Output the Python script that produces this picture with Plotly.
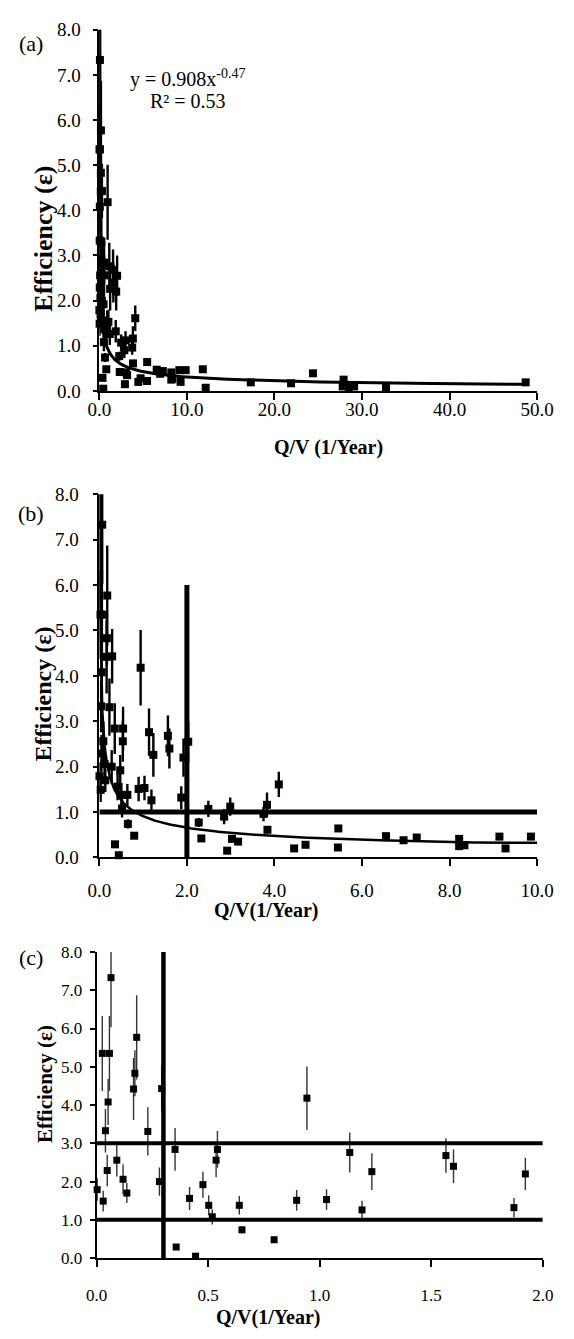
import numpy as np
import plotly.graph_objects as go

# ---------------- data ----------------
qv = [0.003, 0.030, 0.026, 0.040, 0.048, 0.052, 0.058, 0.065, 0.091, 0.119,
      0.136, 0.166, 0.172, 0.180, 0.230, 0.282, 0.292, 0.352, 0.357, 0.417,
      0.444, 0.477, 0.503, 0.519, 0.536, 0.542, 0.640, 0.652, 0.796, 0.897,
      0.943, 1.031, 1.135, 1.190, 1.234, 1.566, 1.600, 1.871, 1.922, 2.030,
      2.27, 2.33, 2.49, 2.85, 2.92, 2.99, 3.03, 3.17, 3.75, 3.83,
      3.84, 4.10, 4.45, 4.71, 5.46, 5.45, 6.55, 6.95, 7.25, 8.22,
      8.22, 8.34, 9.14, 9.28, 9.86, 11.82, 12.15, 17.3, 21.9, 24.4,
      27.9, 27.8, 28.5, 29.1, 32.75, 48.7]
eff = [1.79, 1.49, 5.35, 3.33, 2.29, 4.08, 5.35, 7.33, 2.56, 2.06,
       1.70, 4.42, 4.83, 5.77, 3.31, 2.00, 4.43, 2.84, 0.29, 1.56,
       0.05, 1.92, 1.38, 1.08, 2.56, 2.84, 1.38, 0.74, 0.48, 1.51,
       4.18, 1.53, 2.76, 1.26, 2.26, 2.68, 2.40, 1.32, 2.20, 2.55,
       0.77, 0.42, 1.07, 0.90, 0.15, 1.12, 0.41, 0.35, 0.96, 1.16,
       0.61, 1.61, 0.20, 0.28, 0.64, 0.22, 0.47, 0.38, 0.44, 0.41,
       0.25, 0.27, 0.46, 0.20, 0.46, 0.48, 0.07, 0.19, 0.17, 0.39,
       0.25, 0.10, 0.07, 0.10, 0.07, 0.19]
eff_err = [0.30, 0.27, 0.98, 0.57, 0.41, 0.60, 0.98, 1.30, 0.43, 0.39,
           0.26, 0.81, 0.60, 1.10, 0.63, 0.37, 0.60, 0.56, 0.0, 0.30,
           0.0, 0.34, 0.26, 0.20, 0.45, 0.48, 0.24, 0.10, 0.0, 0.27,
           0.83, 0.27, 0.52, 0.24, 0.48, 0.45, 0.44, 0.25, 0.42, 0.45,
           0.10, 0.0, 0.18, 0.17, 0.0, 0.20, 0.0, 0.0, 0.16, 0.27,
           0.0, 0.28, 0.0, 0.0, 0.0, 0.0, 0.0, 0.0, 0.0, 0.0,
           0.0, 0.0, 0.0, 0.0, 0.0, 0.0, 0.0, 0.0, 0.0, 0.0,
           0.0, 0.0, 0.0, 0.0, 0.0, 0.0]

fit_coef = 0.908
fit_exp = -0.47
fit_r2 = 0.53

b_vline_x = 2.0
b_vline_top = 6.0
b_hline_y = 1.0
c_vline_x = 0.3
c_hlines_y = [3.0, 1.0]

x_ranges = [[0, 50], [0, 10], [0, 2]]
x_dticks = [10, 2, 0.5]
y_range = [0, 8]
panel_labels = ["(a)", "(b)", "(c)"]
x_titles = ["Q/V (1/Year)", "Q/V(1/Year)", "Q/V(1/Year)"]
y_title = "Efficiency (\u03b5)"

# ---------------- layout helpers (pixel -> paper) ----------------
W, H = 574, 1339
def px(x):
    return x / W
def py(y):
    return 1 - y / H

x_dom_px = [(92, 553), (92, 553), (89, 559)]
y_dom_px = [(20, 387), (492, 861), (957, 1268)]

FONT = "Liberation Serif"
qv_arr = np.array(qv)
eff_arr = np.array(eff)
err_arr = np.array(eff_err)

fig = go.Figure()

xfit = np.geomspace(qv_arr.min(), qv_arr.max(), 1500)
yfit = fit_coef * xfit ** fit_exp

for i in range(3):
    xa = "x" if i == 0 else f"x{i+1}"
    ya = "y" if i == 0 else f"y{i+1}"
    big = i < 2
    if big:
        fig.add_trace(go.Scatter(x=xfit, y=yfit, mode="lines",
                                 line=dict(color="black", width=3 if i == 0 else 2.5),
                                 xaxis=xa, yaxis=ya, showlegend=False, hoverinfo="skip"))
    # error bars (clipped to plot area)
    fig.add_trace(go.Scatter(x=qv_arr, y=eff_arr, mode="markers",
                             marker=dict(size=1, color="rgba(0,0,0,0)"),
                             error_y=dict(type="data", array=err_arr, visible=True,
                                          width=0, thickness=2.4 if big else 1.4,
                                          color="black" if big else "#333333"),
                             cliponaxis=True,
                             xaxis=xa, yaxis=ya, showlegend=False, hoverinfo="skip"))
    # markers (inside the panel's x-range, not clipped at the axes)
    m = (qv_arr >= x_ranges[i][0]) & (qv_arr <= x_ranges[i][1])
    fig.add_trace(go.Scatter(x=qv_arr[m], y=eff_arr[m], mode="markers",
                             marker=dict(symbol="square", size=8 if big else 7, color="black"),
                             cliponaxis=False,
                             xaxis=xa, yaxis=ya, showlegend=False))

shapes = []
# panel (b) thresholds
shapes.append(dict(type="line", xref="x2", yref="y2", x0=b_vline_x, x1=b_vline_x,
                   y0=y_range[0], y1=b_vline_top, line=dict(color="black", width=5)))
shapes.append(dict(type="line", xref="x2", yref="y2", x0=x_ranges[1][0], x1=x_ranges[1][1],
                   y0=b_hline_y, y1=b_hline_y, line=dict(color="black", width=5)))
# panel (c) thresholds
shapes.append(dict(type="line", xref="x3", yref="y3", x0=c_vline_x, x1=c_vline_x,
                   y0=y_range[0], y1=y_range[1], line=dict(color="black", width=4.5)))
for hy in c_hlines_y:
    shapes.append(dict(type="line", xref="x3", yref="y3", x0=x_ranges[2][0], x1=x_ranges[2][1],
                       y0=hy, y1=hy, line=dict(color="black", width=4)))

layout = dict(width=W, height=H, margin=dict(l=0, r=0, t=0, b=0),
              paper_bgcolor="white", plot_bgcolor="white",
              font=dict(family=FONT, color="black"), shapes=shapes)

tick_sizes = [19, 19, 17]
x_standoff = [-6, 8, 14]
y_standoff = [8, 10, 4]
for i in range(3):
    sx = "xaxis" if i == 0 else f"xaxis{i+1}"
    sy = "yaxis" if i == 0 else f"yaxis{i+1}"
    xa = "x" if i == 0 else f"x{i+1}"
    ya = "y" if i == 0 else f"y{i+1}"
    layout[sx] = dict(domain=[px(x_dom_px[i][0]), px(x_dom_px[i][1])], anchor=ya,
                      range=x_ranges[i], dtick=x_dticks[i], tick0=0, tickformat=".1f",
                      showline=True, linecolor="black", linewidth=1.5,
                      ticks="outside", ticklen=7, tickwidth=1.5, tickcolor="black",
                      showgrid=False, zeroline=False,
                      ticklabelstandoff=x_standoff[i],
                      tickfont=dict(family=FONT, size=tick_sizes[i], color="black"))
    layout[sy] = dict(domain=[py(y_dom_px[i][1]), py(y_dom_px[i][0])], anchor=xa,
                      range=y_range, dtick=1, tick0=0, tickformat=".1f",
                      showline=True, linecolor="black", linewidth=1.5,
                      ticks="outside", ticklen=5, tickwidth=1.5, tickcolor="black",
                      showgrid=False, zeroline=False,
                      ticklabelstandoff=y_standoff[i],
                      tickfont=dict(family=FONT, size=tick_sizes[i], color="black"))

fig.update_layout(**layout)

ann = []
label_pos = [(20, 34), (20, 512), (20, 963)]
for i in range(3):
    ann.append(dict(text=panel_labels[i], x=px(label_pos[i][0]), y=py(label_pos[i][1]),
                    xref="paper", yref="paper", showarrow=False, xanchor="center", yanchor="middle",
                    font=dict(family=FONT, size=22, color="black")))
ytitle_pos = [(33, 232), (33, 695), (35, 1091)]
ytitle_size = [26, 24, 21]
for i in range(3):
    ann.append(dict(text=f"<b>{y_title}</b>", x=px(ytitle_pos[i][0]), y=py(ytitle_pos[i][1]),
                    xref="paper", yref="paper", showarrow=False, textangle=-90,
                    xanchor="center", yanchor="middle",
                    font=dict(family=FONT, size=ytitle_size[i], color="black")))
xtitle_pos = [(333, 444), (268, 915), (270, 1328)]
for i in range(3):
    ann.append(dict(text=f"<b>{x_titles[i]}</b>", x=px(xtitle_pos[i][0]), y=py(xtitle_pos[i][1]),
                    xref="paper", yref="paper", showarrow=False, xanchor="center", yanchor="middle",
                    font=dict(family=FONT, size=20, color="black")))
# fit equation
ann.append(dict(text=f"y = {fit_coef}x<sup>{fit_exp}</sup>", x=px(122), y=py(70),
                xref="paper", yref="paper", showarrow=False, xanchor="left", yanchor="middle",
                font=dict(family=FONT, size=20, color="black")))
ann.append(dict(text=f"R\u00b2 = {fit_r2}", x=px(143), y=py(92),
                xref="paper", yref="paper", showarrow=False, xanchor="left", yanchor="middle",
                font=dict(family=FONT, size=20, color="black")))
fig.update_layout(annotations=ann)

fig.write_html("out.html")
